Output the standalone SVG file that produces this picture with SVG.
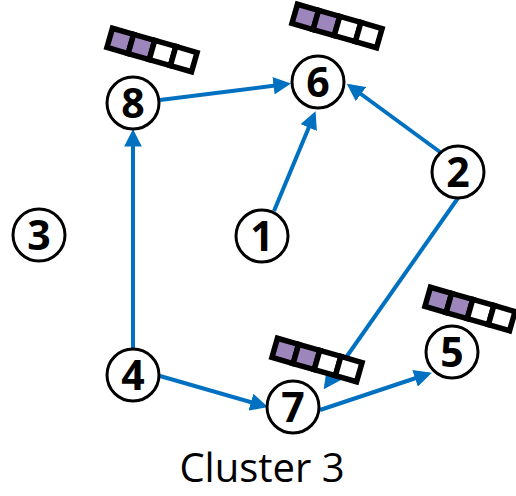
<svg xmlns="http://www.w3.org/2000/svg" width="516" height="496" viewBox="0 0 516 496">
<style>
.node circle{fill:#fff;stroke:#000;stroke-width:3}
.node text{font-family:"Open Sans","Lato",sans-serif;font-weight:bold;font-size:41px;text-anchor:middle;fill:#000}
.edge{stroke:#0070C0;stroke-width:4;fill:none;marker-end:url(#ah)}
.cell{stroke:#000;stroke-width:5.5}
.p{fill:#9D86BC}
.w{fill:#fff}
.label{font-family:"Open Sans","Lato",sans-serif;font-size:40px;fill:#000;text-anchor:middle}
</style>
<defs>
<marker id="ah" markerWidth="4.4" markerHeight="4.4" refX="3.4" refY="2.2" orient="auto" markerUnits="strokeWidth">
<path d="M0,0 L4.4,2.2 L0,4.4 Z" fill="#0070C0"/>
</marker>
<g id="barshape">
<rect class="cell p" x="-44" y="-10" width="22" height="20"/>
<rect class="cell p" x="-22" y="-10" width="22" height="20"/>
<rect class="cell w" x="0" y="-10" width="22" height="20"/>
<rect class="cell w" x="22" y="-10" width="22" height="20"/>
</g>
</defs>
<g id="connectors">
<line class="edge" x1="160" y1="100" x2="287" y2="84"/>
<line class="edge" x1="274" y1="211" x2="314" y2="115"/>
<line class="edge" x1="440" y1="152" x2="350" y2="86"/>
<line class="edge" x1="133" y1="348" x2="133" y2="133"/>
<line class="edge" x1="160" y1="376" x2="264" y2="406"/>
<line class="edge" x1="458" y1="198" x2="326" y2="386"/>
<line class="edge" x1="320" y1="410" x2="428" y2="374"/>
</g>
<g id="node8" class="node"><circle cx="133" cy="103" r="26"/><text x="133" y="118">8</text></g>
<g id="node6" class="node"><circle cx="318" cy="82" r="26"/><text x="318" y="97">6</text></g>
<g id="node1" class="node"><circle cx="262" cy="236" r="26"/><text x="262" y="251">1</text></g>
<g id="node2" class="node"><circle cx="458" cy="172" r="26"/><text x="458" y="187">2</text></g>
<g id="node3" class="node"><circle cx="39" cy="235" r="26"/><text x="39" y="250">3</text></g>
<g id="node4" class="node"><circle cx="133" cy="375" r="26"/><text x="133" y="390">4</text></g>
<g id="node7" class="node"><circle cx="293" cy="407" r="26"/><text x="293" y="422">7</text></g>
<g id="node5" class="node"><circle cx="452" cy="352" r="26"/><text x="452" y="367">5</text></g>
<g id="bar8"><use href="#barshape" transform="translate(152,50) rotate(16)"/></g>
<g id="bar6"><use href="#barshape" transform="translate(337,26) rotate(16)"/></g>
<g id="bar7"><use href="#barshape" transform="translate(317,360) rotate(16)"/></g>
<g id="bar5"><use href="#barshape" transform="translate(470,309) rotate(16)"/></g>
<text class="label" x="262" y="482">Cluster 3</text>
</svg>
